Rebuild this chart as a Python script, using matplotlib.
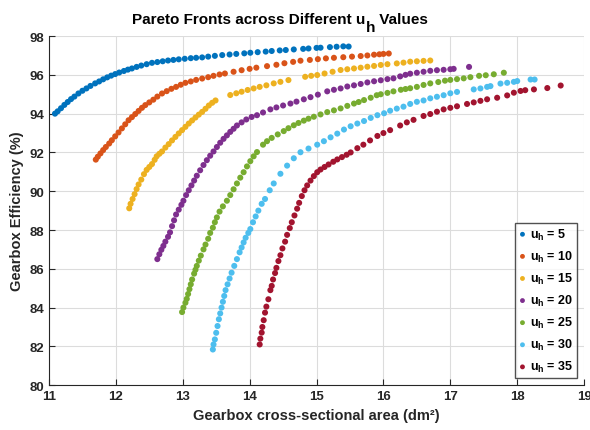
import numpy as np
import matplotlib
matplotlib.use("Agg")
import matplotlib.pyplot as plt

plt.rcParams['font.family'] = ['Liberation Sans', 'DejaVu Sans']
plt.rcParams['mathtext.fontset'] = 'custom'
plt.rcParams['mathtext.rm'] = 'Liberation Sans:bold'
plt.rcParams['mathtext.bf'] = 'Liberation Sans:bold'
plt.rcParams['mathtext.it'] = 'Liberation Sans:bold'

uh_values = [5, 10, 15, 20, 25, 30, 35]

# gearbox area (dm^2) / efficiency (%)
area_5 = [11.09, 11.13, 11.18, 11.23, 11.28, 11.33, 11.38, 11.44, 11.50, 11.56, 11.62, 11.69,
          11.75, 11.81, 11.87, 11.93, 11.99, 12.05, 12.12, 12.18, 12.24, 12.31, 12.38, 12.46,
          12.54, 12.62, 12.70, 12.78, 12.86, 12.94, 13.03, 13.12, 13.20, 13.29, 13.38, 13.48,
          13.59, 13.70, 13.80, 13.92, 14.01, 14.12, 14.24, 14.33, 14.45, 14.54, 14.66, 14.80,
          14.88, 15.00, 15.06, 15.20, 15.30, 15.40, 15.48]
eff_5 = [94.00, 94.12, 94.28, 94.45, 94.60, 94.75, 94.88, 95.04, 95.18, 95.30, 95.43, 95.56,
         95.66, 95.77, 95.87, 95.96, 96.04, 96.12, 96.20, 96.27, 96.33, 96.41, 96.48, 96.55,
         96.62, 96.66, 96.70, 96.74, 96.77, 96.80, 96.83, 96.86, 96.88, 96.90, 96.94, 96.98,
         97.02, 97.05, 97.08, 97.11, 97.14, 97.17, 97.20, 97.23, 97.26, 97.28, 97.31, 97.34,
         97.36, 97.39, 97.40, 97.43, 97.45, 97.47, 97.46]

area_10 = [11.70, 11.73, 11.77, 11.81, 11.85, 11.90, 11.94, 11.99, 12.04, 12.09, 12.14, 12.19,
           12.24, 12.29, 12.34, 12.39, 12.44, 12.50, 12.56, 12.62, 12.69, 12.76, 12.83, 12.90,
           12.97, 13.04, 13.12, 13.20, 13.29, 13.38, 13.46, 13.55, 13.63, 13.76, 13.88, 14.00,
           14.10, 14.26, 14.40, 14.52, 14.65, 14.76, 14.90, 15.02, 15.14, 15.26, 15.40, 15.53,
           15.66, 15.76, 15.86, 15.94, 16.00, 16.08]
eff_10 = [91.63, 91.78, 91.95, 92.12, 92.28, 92.46, 92.63, 92.83, 93.03, 93.24, 93.45, 93.66,
          93.82, 93.98, 94.14, 94.30, 94.44, 94.58, 94.72, 94.88, 95.04, 95.16, 95.28, 95.38,
          95.49, 95.59, 95.66, 95.74, 95.81, 95.88, 95.95, 96.02, 96.07, 96.16, 96.24, 96.31,
          96.37, 96.45, 96.52, 96.60, 96.67, 96.73, 96.77, 96.81, 96.85, 96.88, 96.91, 96.94,
          96.97, 97.00, 97.04, 97.06, 97.08, 97.10]

area_15 = [12.20, 12.22, 12.25, 12.28, 12.31, 12.34, 12.38, 12.42, 12.46, 12.50, 12.54, 12.58,
           12.61, 12.65, 12.69, 12.74, 12.79, 12.84, 12.89, 12.94, 12.99, 13.04, 13.09, 13.14,
           13.19, 13.24, 13.29, 13.34, 13.39, 13.44, 13.49, 13.71, 13.80, 13.88, 13.97, 14.06,
           14.15, 14.25, 14.36, 14.46, 14.58, 14.83, 14.92, 15.01, 15.12, 15.24, 15.36, 15.46,
           15.56, 15.66, 15.76, 15.86, 15.96, 16.06, 16.20, 16.30, 16.40, 16.50, 16.60, 16.70]
eff_15 = [89.12, 89.35, 89.60, 89.85, 90.11, 90.35, 90.60, 90.88, 91.10, 91.25, 91.40, 91.62,
          91.80, 91.93, 92.05, 92.25, 92.43, 92.62, 92.80, 92.98, 93.15, 93.32, 93.49, 93.65,
          93.80, 93.95, 94.09, 94.25, 94.42, 94.56, 94.68, 94.96, 95.05, 95.13, 95.22, 95.30,
          95.38, 95.46, 95.56, 95.64, 95.73, 95.90, 95.95, 95.99, 96.07, 96.16, 96.25, 96.29,
          96.33, 96.37, 96.42, 96.46, 96.51, 96.55, 96.59, 96.63, 96.68, 96.70, 96.72, 96.74]

area_20 = [12.62, 12.65, 12.68, 12.71, 12.74, 12.78, 12.81, 12.84, 12.87, 12.90, 12.94, 12.98,
           13.01, 13.05, 13.09, 13.13, 13.17, 13.21, 13.26, 13.31, 13.36, 13.41, 13.46, 13.51,
           13.56, 13.61, 13.66, 13.71, 13.76, 13.81, 13.88, 13.95, 14.03, 14.11, 14.20, 14.31,
           14.40, 14.50, 14.61, 14.70, 14.81, 14.91, 15.02, 15.16, 15.26, 15.36, 15.46, 15.56,
           15.66, 15.76, 15.86, 15.96, 16.06, 16.15, 16.25, 16.33, 16.40, 16.50, 16.60, 16.70,
           16.80, 16.90, 17.00, 17.05, 17.28]
eff_20 = [86.50, 86.75, 86.98, 87.18, 87.40, 87.65, 87.88, 88.20, 88.50, 88.80, 89.05, 89.30,
          89.51, 89.80, 90.05, 90.30, 90.55, 90.80, 91.08, 91.35, 91.60, 91.83, 92.05, 92.28,
          92.50, 92.70, 92.88, 93.06, 93.22, 93.39, 93.55, 93.70, 93.83, 93.92, 94.06, 94.22,
          94.32, 94.42, 94.52, 94.62, 94.74, 94.85, 94.98, 95.15, 95.23, 95.30, 95.40, 95.46,
          95.53, 95.61, 95.67, 95.72, 95.78, 95.82, 95.92, 96.00, 96.06, 96.11, 96.16, 96.21,
          96.24, 96.26, 96.29, 96.31, 96.41]

area_25 = [12.99, 13.01, 13.04, 13.06, 13.08, 13.10, 13.12, 13.14, 13.17, 13.19, 13.21, 13.24,
           13.27, 13.31, 13.34, 13.38, 13.41, 13.45, 13.48, 13.51, 13.55, 13.60, 13.66, 13.71,
           13.76, 13.81, 13.86, 13.91, 13.96, 14.01, 14.06, 14.11, 14.20, 14.26, 14.33, 14.42,
           14.51, 14.58, 14.66, 14.73, 14.81, 14.88, 14.96, 15.06, 15.16, 15.26, 15.36, 15.46,
           15.56, 15.63, 15.71, 15.81, 15.90, 15.96, 16.06, 16.15, 16.26, 16.33, 16.40, 16.50,
           16.60, 16.70, 16.82, 16.92, 17.00, 17.10, 17.20, 17.30, 17.43, 17.53, 17.65, 17.80]
eff_25 = [83.77, 84.00, 84.25, 84.45, 84.70, 84.95, 85.20, 85.45, 85.75, 85.95, 86.15, 86.42,
          86.68, 87.00, 87.25, 87.55, 87.85, 88.12, 88.40, 88.65, 88.95, 89.22, 89.51, 89.80,
          90.10, 90.40, 90.70, 90.98, 91.28, 91.55, 91.80, 92.02, 92.40, 92.58, 92.75, 92.93,
          93.10, 93.25, 93.40, 93.52, 93.64, 93.74, 93.84, 93.96, 94.08, 94.17, 94.27, 94.40,
          94.52, 94.60, 94.70, 94.82, 94.95, 95.00, 95.07, 95.15, 95.23, 95.27, 95.31, 95.38,
          95.48, 95.56, 95.63, 95.70, 95.74, 95.78, 95.82, 95.88, 95.95, 95.98, 96.03, 96.11]

area_30 = [13.45, 13.46, 13.48, 13.50, 13.52, 13.54, 13.56, 13.58, 13.60, 13.62, 13.64, 13.67,
           13.70, 13.73, 13.77, 13.81, 13.85, 13.88, 13.91, 13.94, 13.98, 14.01, 14.05, 14.09,
           14.13, 14.18, 14.23, 14.30, 14.36, 14.46, 14.56, 14.66, 14.76, 14.88, 15.01, 15.11,
           15.21, 15.31, 15.41, 15.51, 15.61, 15.71, 15.81, 15.91, 16.01, 16.10, 16.20, 16.30,
           16.40, 16.50, 16.60, 16.70, 16.80, 16.90, 17.00, 17.10, 17.35, 17.45, 17.55, 17.60,
           17.75, 17.85, 17.95, 18.00, 18.20, 18.26]
eff_30 = [81.84, 82.10, 82.36, 82.70, 83.05, 83.40, 83.70, 84.00, 84.30, 84.60, 84.90, 85.20,
          85.50, 85.80, 86.15, 86.50, 86.85, 87.10, 87.36, 87.60, 87.85, 88.05, 88.40, 88.70,
          89.00, 89.35, 89.60, 90.05, 90.40, 90.90, 91.32, 91.70, 92.01, 92.20, 92.40, 92.58,
          92.78, 92.97, 93.18, 93.35, 93.49, 93.62, 93.78, 93.92, 94.02, 94.15, 94.26, 94.36,
          94.50, 94.61, 94.68, 94.79, 94.87, 94.95, 95.05, 95.12, 95.25, 95.30, 95.38, 95.42,
          95.55, 95.59, 95.64, 95.68, 95.76, 95.76]

area_35 = [14.15, 14.16, 14.18, 14.19, 14.21, 14.23, 14.25, 14.28, 14.31, 14.33, 14.35, 14.38,
           14.40, 14.43, 14.46, 14.49, 14.53, 14.56, 14.60, 14.63, 14.67, 14.71, 14.74, 14.78,
           14.82, 14.86, 14.91, 14.96, 15.01, 15.06, 15.12, 15.18, 15.25, 15.31, 15.38, 15.45,
           15.51, 15.61, 15.70, 15.80, 15.91, 16.00, 16.10, 16.25, 16.35, 16.45, 16.60, 16.70,
           16.80, 16.90, 17.00, 17.10, 17.25, 17.35, 17.45, 17.55, 17.70, 17.85, 17.95, 18.05,
           18.12, 18.25, 18.45, 18.65]
eff_35 = [82.10, 82.40, 82.71, 83.00, 83.35, 83.74, 84.05, 84.43, 84.90, 85.12, 85.45, 85.78,
          86.05, 86.40, 86.70, 87.05, 87.40, 87.75, 88.10, 88.40, 88.75, 89.10, 89.40, 89.75,
          90.05, 90.30, 90.55, 90.78, 90.98, 91.12, 91.25, 91.38, 91.52, 91.64, 91.76, 91.88,
          92.00, 92.22, 92.40, 92.62, 92.85, 93.00, 93.15, 93.39, 93.55, 93.68, 93.88, 93.98,
          94.10, 94.22, 94.30, 94.38, 94.50, 94.58, 94.66, 94.74, 94.82, 94.94, 95.08, 95.17,
          95.21, 95.25, 95.32, 95.45]

areas = [area_5, area_10, area_15, area_20, area_25, area_30, area_35]
effs = [eff_5, eff_10, eff_15, eff_20, eff_25, eff_30, eff_35]
colors = ['#0072BD', '#D95319', '#EDB120', '#7E2F8E', '#77AC30', '#4DBEEE', '#A2142F']

fig = plt.figure(figsize=(5.9, 4.31), dpi=100)
ax = fig.add_axes([0.083, 0.104, 0.907, 0.810])

for uh, x, y, c in zip(uh_values, areas, effs, colors):
    ax.scatter(x, y, s=19, color=c, edgecolors='none', label=r'u$_{h}$ = %d' % uh, zorder=3)

ax.set_xlim(11, 19)
ax.set_ylim(80, 98)
ax.set_xticks(np.arange(11, 20, 1))
ax.set_yticks(np.arange(80, 99, 2))
ax.grid(True, color='#dcdcdc', linewidth=0.8)
ax.set_axisbelow(True)
for side in ['top', 'right']:
    ax.spines[side].set_visible(False)
for side in ['left', 'bottom']:
    ax.spines[side].set_color('#262626')
ax.tick_params(direction='in', length=4, labelsize=9.5, colors='#262626')
for lab in ax.get_xticklabels() + ax.get_yticklabels():
    lab.set_fontweight('bold')

ax.set_xlabel('Gearbox cross-sectional area (dm²)', fontsize=10.5, fontweight='bold', color='#262626')
ax.set_ylabel('Gearbox Efficiency (%)', fontsize=10.5, fontweight='bold', color='#262626')

# title in three pieces so the subscript h sits low like the original
fig.canvas.draw()
rend = fig.canvas.get_renderer()
ty = 1 - 24 / 431
tkw = dict(fontsize=11, fontweight='bold', color='black', va='baseline')
t1 = fig.text(0, ty, 'Pareto Fronts across Different u', **tkw)
t2 = fig.text(0, ty - 8 / 431, 'h', **tkw)
t3 = fig.text(0, ty, ' Values', **tkw)
w = [t.get_window_extent(rend).width for t in (t1, t2, t3)]
x0 = 280 - sum(w) / 2
t1.set_x(x0 / 590)
t2.set_x((x0 + w[0]) / 590)
t3.set_x((x0 + w[0] + w[1]) / 590)

leg = ax.legend(loc='lower right', fontsize=9, frameon=True, fancybox=False,
                edgecolor='#262626', handletextpad=0.3, borderpad=0.3,
                labelspacing=0.56, handlelength=0.6, markerscale=0.8,
                borderaxespad=0, bbox_to_anchor=(577 / 590, 1 - 379 / 431),
                bbox_transform=fig.transFigure)
leg.get_frame().set_linewidth(1.0)
for t in leg.get_texts():
    t.set_fontweight('bold')

fig.savefig('out.png', dpi=100)
